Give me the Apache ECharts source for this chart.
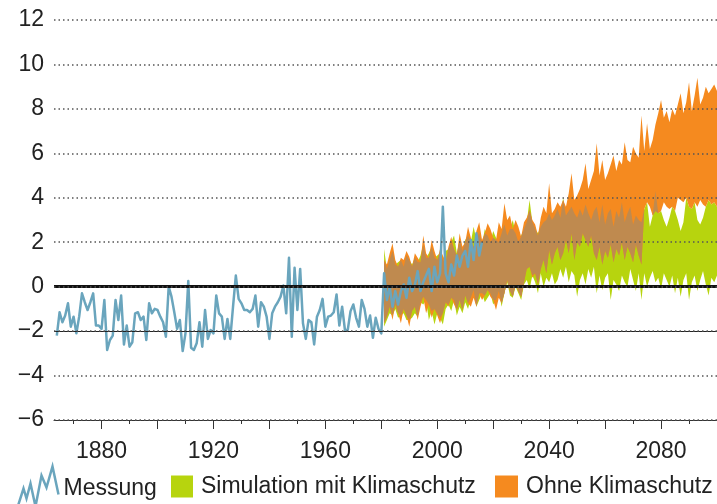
<!DOCTYPE html>
<html><head><meta charset="utf-8">
<script src="https://cdn.jsdelivr.net/npm/echarts@6/dist/echarts.min.js"></script>
<style>html,body{margin:0;padding:0;background:#fff}#c{width:717px;height:504px}</style>
</head><body><div id="c"></div>
<script>
// ---- data ----
const firstYear = 1863, lastYear = 2100;
const messungStart = 1864;
const messung = [
 -2.2,-1.15,-1.6,-1.3,-0.75,-1.8,
 -1.35,-2.1,-1.35,-0.3,-0.7,-1.05,-0.7,-0.3,-1.75,-1.75,
 -1.9,-0.6,-2.85,-2.4,-2.2,-0.6,-1.5,-0.4,-2.6,-1.75,
 -2.7,-2.5,-1.2,-1.15,-1.5,-1.35,-2.4,-0.75,-1.2,-1.0,
 -1.05,-1.35,-1.6,-2.25,0.0,-0.45,-1.15,-1.9,-1.5,-2.9,
 -2.1,0.25,-2.75,-2.85,-2.55,-1.6,-2.7,-1.05,-2.35,-1.95,
 -2.1,-0.4,-1.2,-1.35,-2.35,-1.45,-2.35,-0.9,0.5,-0.55,
 -0.75,-1.05,-1.05,-1.15,-1.0,-0.4,-1.8,-0.7,-0.9,-1.35,
 -2.35,-1.2,-0.9,-0.7,-0.45,0.05,-1.2,1.3,-2.25,0.85,
 -1.05,0.8,-1.65,-2.35,-1.5,-1.6,-2.6,-1.35,-1.05,-0.55,
 -1.8,-1.35,-1.3,-1.15,-0.35,-1.75,-0.9,-1.95,-1.95,-1.1,
 -0.8,-1.4,-1.8,-0.6,-1.0,-1.8,-1.3,-2.3,-1.4,-1.9,
 -2.1,0.6,-0.6,0.0,-0.9,-0.2,-0.8,-0.2,0.1,-0.5,
 0.4,-0.2,0.1,0.7,-0.2,0.2,0.5,0.8,-0.2,0.9,
 0.2,0.6,3.6,0.6,0.2,1.0,0.5,1.4,0.9,1.4,
 1.6,0.9,2.1,1.2,2.4,1.4,2.0
];
const bandStart = 1981;
const ohneUpper = [
 1.2,1.0,1.5,1.95,1.2,0.9,1.3,1.2,1.6,1.35,
 0.9,1.5,1.3,1.1,2.3,1.5,1.3,2.1,1.6,1.2,
 1.7,1.4,1.1,1.8,2.25,1.7,1.4,2.4,1.8,2.0,
 2.7,2.2,1.8,2.5,2.9,2.1,2.4,2.85,2.6,2.2,
 2.1,2.9,2.6,3.75,3.0,3.2,2.6,3.0,2.7,2.25,
 2.9,3.1,3.45,3.0,2.8,2.3,3.1,3.6,3.3,4.65,
 3.3,3.5,3.8,3.6,3.9,3.6,4.2,5.1,3.9,4.1,
 4.4,4.8,5.55,4.4,4.8,5.2,6.45,5.0,5.7,4.8,
 5.1,5.5,5.9,5.2,5.7,5.5,6.5,5.7,5.6,6.3,
 6.0,5.8,7.7,6.1,7.35,6.2,6.6,7.3,7.8,8.4,
 7.6,7.9,7.4,8.0,7.7,8.2,8.7,7.8,8.3,9.2,
 7.9,8.6,9.4,8.2,8.5,9.0,8.7,8.9,9.1,8.8
];
const ohneLower = [
 -1.65,-1.35,-0.9,-1.5,-0.8,-1.2,-1.65,-1.0,-1.3,-1.8,
 -1.1,-0.9,-1.5,-0.9,-0.45,-1.2,-0.8,-1.4,-1.0,-1.3,
 -1.65,-1.2,-0.7,-0.9,-0.5,-0.8,-1.05,-0.6,-1.05,-0.4,
 -0.75,-0.9,-0.5,-0.9,-0.3,-0.6,-0.4,-0.15,-0.45,-0.6,
 -1.05,-0.5,-0.75,-0.3,0.3,-0.2,-0.45,0.1,-0.2,-0.45,
 0.2,0.8,0.9,0.4,0.6,0.1,0.8,1.2,0.6,1.65,
 1.0,1.5,1.8,1.2,1.5,2.1,1.5,2.4,1.2,2.0,
 1.8,2.4,2.1,1.8,2.3,1.5,1.2,1.8,1.0,1.6,
 1.3,1.9,1.1,1.7,1.4,2.0,1.2,1.8,1.5,1.1,
 1.9,1.4,1.0,3.5,3.8,3.6,3.2,3.4,3.3,3.4,
 3.8,3.6,3.5,3.6,3.4,4.0,3.9,3.8,4.0,3.6,
 3.5,3.8,3.6,3.9,3.7,3.6,3.9,3.7,3.8,3.6
];
const mitUpper = [
 1.7,0.8,1.2,1.6,1.0,1.1,1.2,0.9,1.4,1.2,
 1.0,1.3,1.1,1.4,1.9,1.3,1.5,1.8,1.3,1.4,
 1.5,1.2,1.6,1.7,2.0,2.3,1.5,2.1,1.6,2.1,
 2.3,2.0,2.7,2.1,2.4,1.9,2.6,2.3,2.0,2.5,
 2.2,2.0,2.4,2.8,2.3,2.6,3.0,2.4,2.0,2.3,
 2.6,2.9,3.9,2.9,2.6,2.4,2.7,2.9,3.0,3.3,
 3.0,3.2,3.5,3.1,4.0,3.2,3.4,3.6,3.3,3.1,
 3.5,3.2,3.7,3.3,3.0,3.4,3.6,2.9,3.7,2.8,
 3.3,3.5,2.7,3.4,3.1,3.8,2.9,3.3,3.6,2.8,
 3.2,3.0,2.9,3.5,3.8,2.7,3.2,4.3,3.3,3.4,
 3.0,2.7,3.1,3.6,3.4,3.0,2.5,2.9,4.0,3.6,
 3.5,3.8,3.0,2.8,3.1,3.6,3.9,3.7,3.8,3.6
];
const mitLower = [
 -1.8,-1.5,-1.2,-1.3,-1.0,-1.4,-1.3,-1.2,-1.5,-1.5,
 -1.4,-1.2,-1.35,-0.7,-0.8,-0.6,-1.5,-1.1,-1.7,-1.2,
 -1.4,-1.7,-1.0,-0.8,-1.1,-0.6,-1.3,-0.9,-1.2,-0.7,
 -1.0,-0.5,-0.15,-0.9,-0.6,-0.3,-0.7,-0.5,-0.3,-0.8,
 -0.6,-0.2,-0.9,-0.3,0.2,-0.4,-0.5,0.0,-0.3,-0.6,
 0.1,0.3,-0.1,0.5,0.2,-0.3,0.6,0.0,0.4,0.2,
 0.6,0.1,0.3,0.8,0.4,0.9,0.2,0.7,0.5,-0.45,
 0.3,0.6,0.1,0.8,0.4,0.9,-0.3,0.5,-0.15,0.4,
 0.6,-0.6,0.3,0.1,-0.2,0.5,0.2,0.0,0.8,0.3,
 -0.2,0.6,-0.6,0.6,0.0,0.4,0.7,0.2,0.4,-0.1,
 0.6,0.3,0.0,0.5,-0.3,0.4,-0.45,0.3,0.6,-0.6,
 0.2,0.5,-0.2,0.3,0.7,0.1,-0.4,0.4,0.2,0.5
];
const xLabelYears = [1880, 1920, 1960, 2000, 2040, 2080];
const xMajorTickStep = 20, xMinorTickStep = 10;
const yMin = -6, yMax = 12, yStep = 2;
const refLines = [0, -2];
const names = ['Messung', 'Simulation mit Klimaschutz', 'Ohne Klimaschutz'];

// ---- style ----
const C = { blue: '#6aa5bd', green: '#b7d40e', orange: '#f58a1f', brown: '#bf8a4f', text: '#222' };
const FONT = '"Liberation Sans", Arial, sans-serif';

// ---- build ----
const years = [];
for (let y = firstYear; y <= lastYear; y++) years.push(String(y));
function align(start, arr) {
  return years.map(y => { const i = +y - start; return (i >= 0 && i < arr.length) ? arr[i] : null; });
}
const ovLower = mitLower.map((v, i) => Math.max(v, ohneLower[i]));
const ovUpper = mitUpper.map((v, i) => Math.max(Math.min(v, ohneUpper[i]), ovLower[i]));

function band(id, name, lower, upper, color, z) {
  const diff = upper.map((u, i) => u - lower[i]);
  return [
    { type: 'line', name: id + '_base', data: align(bandStart, lower), stack: id, stackStrategy: 'all',
      symbol: 'none', lineStyle: { opacity: 0, width: 0 }, silent: true, z },
    { type: 'line', name, data: align(bandStart, diff), stack: id, stackStrategy: 'all',
      symbol: 'none', lineStyle: { opacity: 0, width: 0 }, itemStyle: { color },
      areaStyle: { color, opacity: 1 }, silent: true, z }
  ];
}

const chart = echarts.init(document.getElementById('c'), null, { renderer: 'canvas' });
const legendText = { fontSize: 23, color: C.text, fontFamily: FONT };
chart.setOption({
  animation: false,
  backgroundColor: '#fff',
  grid: { left: 54, right: -8, top: 20, bottom: 84 },
  legend: [
    { left: 14, top: 464, padding: 0, selectedMode: false, itemWidth: 42, itemHeight: 44, textStyle: legendText,
      data: [{ name: names[0], icon: 'path://M0,44 L7,22 L10,32 L14,17 L19,40 L25,9 L30,21 L36,0 L42,28',
               itemStyle: { color: 'none', borderColor: C.blue, borderWidth: 2.5 } }] },
    { left: 171, top: 475, padding: 0, selectedMode: false, itemWidth: 22, itemHeight: 22,
      textStyle: Object.assign({ padding: [0, 0, 0, 3] }, legendText),
      data: [{ name: names[1], icon: 'rect', itemStyle: { color: C.green } }] },
    { left: 495, top: 475, padding: 0, selectedMode: false, itemWidth: 23, itemHeight: 22,
      textStyle: Object.assign({ padding: [0, 0, 0, 3] }, legendText),
      data: [{ name: names[2], icon: 'rect', itemStyle: { color: C.orange } }] }
  ],
  xAxis: [
    { type: 'category', data: years, boundaryGap: false, position: 'bottom',
      axisLine: { onZero: false, lineStyle: { color: '#333', width: 1 } },
      axisTick: { interval: (i, v) => +v % xMajorTickStep === 0, length: 9, lineStyle: { color: '#333' } },
      axisLabel: { interval: (i, v) => xLabelYears.includes(+v), margin: 20, fontSize: 23, color: C.text, fontFamily: FONT },
      splitLine: { show: false } },
    { type: 'category', data: years, boundaryGap: false, position: 'bottom',
      axisLine: { show: false, onZero: false },
      axisTick: { interval: (i, v) => +v % xMinorTickStep === 0, length: 4, lineStyle: { color: '#333' } },
      axisLabel: { show: false }, splitLine: { show: false } }
  ],
  yAxis: {
    type: 'value', min: yMin, max: yMax, interval: yStep, z: 10,
    axisLine: { show: false }, axisTick: { show: false },
    axisLabel: { margin: 10, fontSize: 23, color: C.text, fontFamily: FONT,
      formatter: v => v < 0 ? '\u2212' + Math.abs(v) : String(v) },
    splitLine: { lineStyle: { type: [1.5, 3], width: 1.5, color: '#555' } }
  },
  series: [
    ...band('mit', names[1], mitLower, mitUpper, C.green, 2),
    ...band('ohne', names[2], ohneLower, ohneUpper, C.orange, 2),
    ...band('ov', 'overlap', ovLower, ovUpper, C.brown, 2),
    { type: 'line', name: names[0], data: align(messungStart, messung), symbol: 'none', z: 3,
      lineStyle: { color: C.blue, width: 2.5, join: 'round' }, itemStyle: { color: C.blue }, silent: true,
      markLine: { silent: true, symbol: 'none', label: { show: false },
        data: [
          { yAxis: refLines[0], lineStyle: { color: '#111', width: 3, type: 'solid' } },
          { yAxis: refLines[1], lineStyle: { color: '#222', width: 1.2, type: 'solid' } }
        ] } }
  ]
});
</script>
</body></html>
